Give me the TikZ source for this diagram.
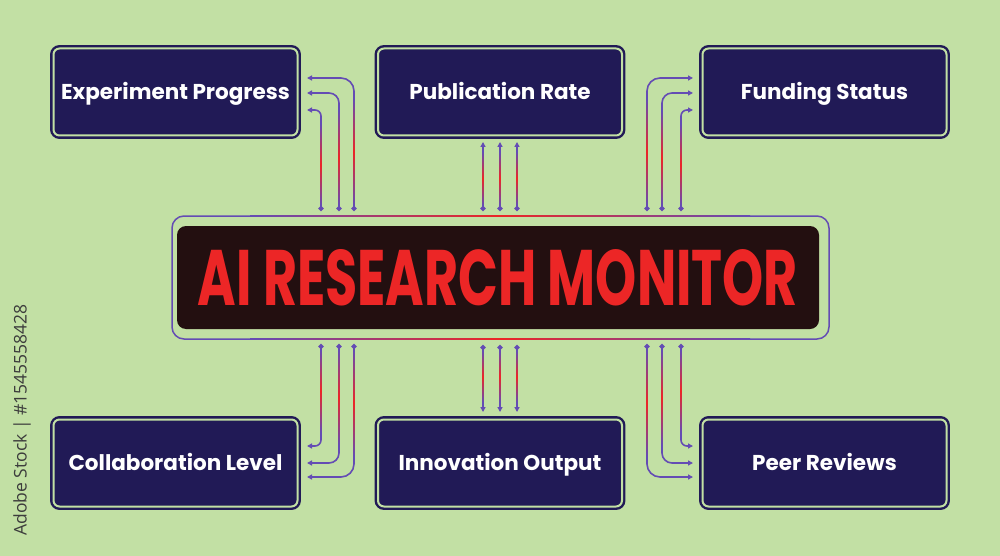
\documentclass[tikz,border=0pt]{standalone}
\usepackage{fontspec}
\setmainfont{Poppins}
\newfontfamily\wmfont{Open Sans}
\usetikzlibrary{arrows.meta}
\definecolor{bg}{RGB}{194,224,164}
\definecolor{navy}{RGB}{33,26,86}
\definecolor{hubfill}{RGB}{35,15,16}
\definecolor{cpurple}{RGB}{100,76,180}
\definecolor{cred}{RGB}{236,38,38}
\definecolor{wmgray}{RGB}{60,60,60}
\begin{document}
\begin{tikzpicture}[x=1pt,y=-1pt,
  box/.style={draw=navy, fill=navy, line width=2.4pt, double=bg, double distance=2pt,
    rounded corners=6pt, minimum width=244pt, minimum height=87pt, inner sep=0pt,
    text height=15pt, text depth=0pt,
    text=white, font=\bfseries\fontsize{21.5}{24}\selectfont},
  conn/.style={cpurple, line width=1.6pt, {Circle[length=5pt]}-{Triangle[length=5pt,width=5pt]}},
  vgrad/.style={top color=cpurple, bottom color=cpurple, middle color=cred},
  hgrad/.style={left color=cpurple, right color=cpurple, middle color=cred}]
\fill[bg] (0,0) rectangle (1000,556);
\useasboundingbox (0,0) rectangle (1000,556);

% boxes
\node[box] (b1) at (175.5,92) {Experiment Progress};
\node[box] (b2) at (500,92) {Publication Rate};
\node[box] (b3) at (824.5,92) {Funding Status};
\node[box] (b4) at (175.5,463) {Collaboration Level};
\node[box] (b5) at (500,463) {Innovation Output};
\node[box] (b6) at (824.5,463) {Peer Reviews};

% hub
\node[draw=cpurple, line width=1.5pt, rounded corners=12pt, minimum width=657pt, minimum height=123pt] (frame) at (500.5,277.5) {};
\shade[hgrad] (250,215.25) rectangle (750,216.75);
\shade[hgrad] (250,338.25) rectangle (750,339.75);
\node[fill=hubfill, rounded corners=9pt, minimum width=642pt, minimum height=103pt, inner sep=0pt, text=cred] (hub) at (498,277.5)
  {\resizebox{600pt}{56pt}{\bfseries AI RESEARCH MONITOR}};

% top-left
\foreach \x/\y/\r/\n in {321/110/6/a, 339/93/10/b, 354/78/13/c} {
  \coordinate (tl\n s) at (\x,211);
  \coordinate (tl\n e) at (307,\y);
  \draw[conn, rounded corners=\r pt] (tl\n s) |- (tl\n e);
  \shade[vgrad] (\x-0.8,\y+\r+8) rectangle (\x+0.8,205);
}
% top-right
\foreach \x/\y/\r/\n in {681/110/6/a, 662/93/10/b, 647/78/13/c} {
  \coordinate (tr\n s) at (\x,211);
  \coordinate (tr\n e) at (693,\y);
  \draw[conn, rounded corners=\r pt] (tr\n s) |- (tr\n e);
  \shade[vgrad] (\x-0.8,\y+\r+8) rectangle (\x+0.8,205);
}
% bottom-left
\foreach \x/\y/\r/\n in {321/446/6/a, 339/463/10/b, 354/477/13/c} {
  \coordinate (bl\n s) at (\x,344);
  \coordinate (bl\n e) at (307,\y);
  \draw[conn, rounded corners=\r pt] (bl\n s) |- (bl\n e);
  \shade[vgrad] (\x-0.8,350) rectangle (\x+0.8,\y-\r-8);
}
% bottom-right
\foreach \x/\y/\r/\n in {681/446/6/a, 662/463/10/b, 647/477/13/c} {
  \coordinate (br\n s) at (\x,344);
  \coordinate (br\n e) at (693,\y);
  \draw[conn, rounded corners=\r pt] (br\n s) |- (br\n e);
  \shade[vgrad] (\x-0.8,350) rectangle (\x+0.8,\y-\r-8);
}
% middle
\foreach \x/\n in {483/a, 500/b, 517/c} {
  \coordinate (tm\n s) at (\x,211);
  \coordinate (tm\n e) at (\x,142);
  \draw[conn] (tm\n s) -- (tm\n e);
  \shade[vgrad] (\x-0.8,152) rectangle (\x+0.8,205);
  \coordinate (bm\n s) at (\x,345);
  \coordinate (bm\n e) at (\x,412);
  \draw[conn] (bm\n s) -- (bm\n e);
  \shade[vgrad] (\x-0.8,351) rectangle (\x+0.8,402);
}

% side text
\node[rotate=90, text=wmgray, font=\wmfont\fontsize{17.5}{20}\selectfont, inner sep=0pt] (wm) at (22,420) {Adobe Stock | \#1545558428};
\end{tikzpicture}
\end{document}
